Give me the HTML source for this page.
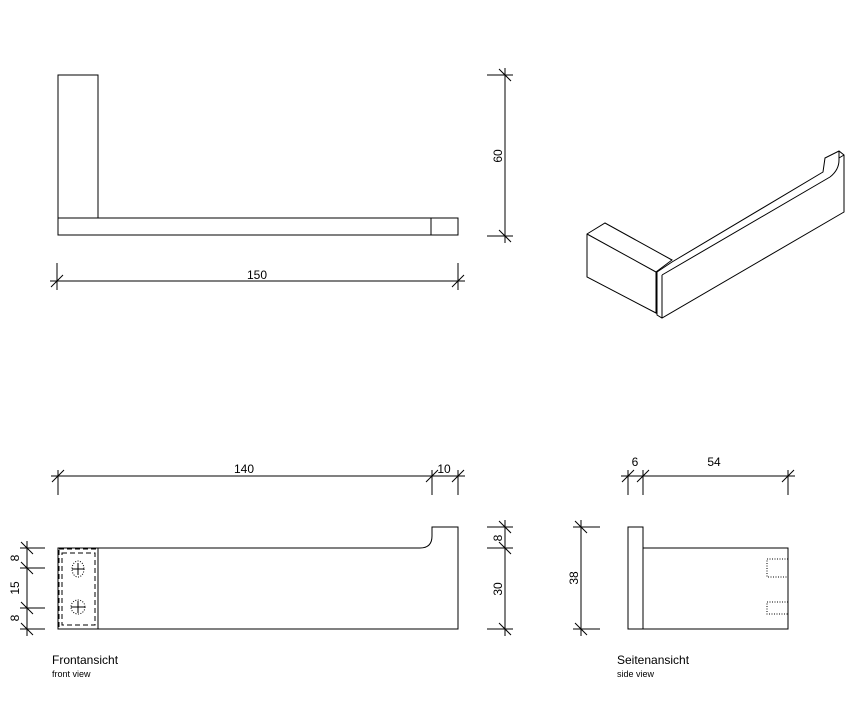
<!DOCTYPE html>
<html><head><style>body{margin:0;background:#fff}svg{display:block}</style></head><body>
<svg width="859" height="706" viewBox="0 0 859 706" xmlns="http://www.w3.org/2000/svg" font-family="Liberation Sans, Arial, sans-serif">
<g fill="none" stroke="#000" stroke-width="1">
<!-- top view -->
<rect x="58" y="75" width="40" height="143"/>
<rect x="58" y="218" width="400" height="17"/>
<line x1="431" y1="218" x2="431" y2="235"/>
<line x1="50" y1="281" x2="465" y2="281"/>
<line x1="57" y1="263" x2="57" y2="290"/><line x1="458" y1="263" x2="458" y2="290"/>
<line x1="51" y1="287" x2="63" y2="275"/><line x1="452" y1="287" x2="464" y2="275"/>
<line x1="505" y1="68" x2="505" y2="243"/>
<line x1="487" y1="75" x2="513" y2="75"/><line x1="487" y1="236" x2="513" y2="236"/>
<line x1="499" y1="69" x2="511" y2="81"/><line x1="499" y1="230" x2="511" y2="242"/>
<!-- iso -->
<polygon points="587,234 605,223 672,260 656,272 656,313 587,277"/>
<line x1="587" y1="234" x2="656" y2="272"/>
<polygon points="657,272 672,262 823,172 825,158 839,151 844,155 844,212 662,318 657,315"/>
<line x1="662" y1="275" x2="662" y2="318"/>
<line x1="662" y1="275" x2="830" y2="177"/>
<path d="M830,177 Q839,170 839,160 L839,151"/>
<line x1="839" y1="158" x2="844" y2="155"/>
<!-- front view -->
<path d="M58,548 L420,548 Q432,548 432,536 L432,527 L458,527 L458,629 L58,629 Z"/>
<line x1="98" y1="548" x2="98" y2="629"/>
<g stroke-dasharray="5,3"><rect x="59" y="549" width="39" height="80"/><rect x="62" y="553" width="33" height="72"/></g>
<g stroke-dasharray="1,1.5"><ellipse cx="78" cy="569" rx="6" ry="8"/><ellipse cx="78" cy="607" rx="7" ry="7"/></g>
<line x1="72" y1="569" x2="84" y2="569"/><line x1="78" y1="563" x2="78" y2="575"/>
<line x1="71" y1="607" x2="85" y2="607"/><line x1="78" y1="601" x2="78" y2="613"/>
<line x1="51" y1="476" x2="465" y2="476"/>
<line x1="58" y1="470" x2="58" y2="495"/><line x1="432" y1="470" x2="432" y2="495"/><line x1="458" y1="470" x2="458" y2="495"/>
<line x1="52" y1="482" x2="64" y2="470"/><line x1="426" y1="482" x2="438" y2="470"/><line x1="452" y1="482" x2="464" y2="470"/>
<line x1="27" y1="541" x2="27" y2="636"/>
<line x1="20" y1="548" x2="45" y2="548"/><line x1="20" y1="568" x2="45" y2="568"/><line x1="20" y1="608" x2="45" y2="608"/><line x1="20" y1="629" x2="45" y2="629"/>
<line x1="21" y1="542" x2="33" y2="554"/><line x1="21" y1="562" x2="33" y2="574"/><line x1="21" y1="602" x2="33" y2="614"/><line x1="21" y1="623" x2="33" y2="635"/>
<line x1="505" y1="520" x2="505" y2="636"/>
<line x1="487" y1="527" x2="513" y2="527"/><line x1="487" y1="548" x2="513" y2="548"/><line x1="487" y1="629" x2="513" y2="629"/>
<line x1="499" y1="521" x2="511" y2="533"/><line x1="499" y1="542" x2="511" y2="554"/><line x1="499" y1="623" x2="511" y2="635"/>
<!-- side view -->
<rect x="628" y="527" width="15" height="102"/>
<polyline points="643,548 788,548 788,629 643,629"/>
<g stroke-dasharray="1,1.5"><polyline points="788,559 767,559 767,577 788,577"/><polyline points="788,602 767,602 767,614 788,614"/></g>
<line x1="581" y1="520" x2="581" y2="636"/>
<line x1="573" y1="527" x2="600" y2="527"/><line x1="573" y1="629" x2="600" y2="629"/>
<line x1="575" y1="521" x2="587" y2="533"/><line x1="575" y1="623" x2="587" y2="635"/>
<line x1="621" y1="476" x2="795" y2="476"/>
<line x1="628" y1="470" x2="628" y2="495"/><line x1="643" y1="470" x2="643" y2="495"/><line x1="788" y1="470" x2="788" y2="495"/>
<line x1="622" y1="482" x2="634" y2="470"/><line x1="637" y1="482" x2="649" y2="470"/><line x1="782" y1="482" x2="794" y2="470"/>
</g>
<g font-size="12" fill="#000" text-anchor="middle">
<text x="257" y="279">150</text>
<text transform="translate(502,156) rotate(-90)">60</text>
<text x="244" y="473">140</text>
<text x="444" y="473">10</text>
<text transform="translate(19,558) rotate(-90)">8</text>
<text transform="translate(19,588) rotate(-90)">15</text>
<text transform="translate(19,618) rotate(-90)">8</text>
<text transform="translate(502,538) rotate(-90)">8</text>
<text transform="translate(502,589) rotate(-90)">30</text>
<text transform="translate(578,578) rotate(-90)">38</text>
<text x="635" y="466">6</text>
<text x="714" y="466">54</text>
</g>
<g fill="#000">
<text x="52" y="664" font-size="12">Frontansicht</text>
<text x="52" y="677" font-size="9">front view</text>
<text x="617" y="664" font-size="12">Seitenansicht</text>
<text x="617" y="677" font-size="9">side view</text>
</g>
</svg>
</body></html>
